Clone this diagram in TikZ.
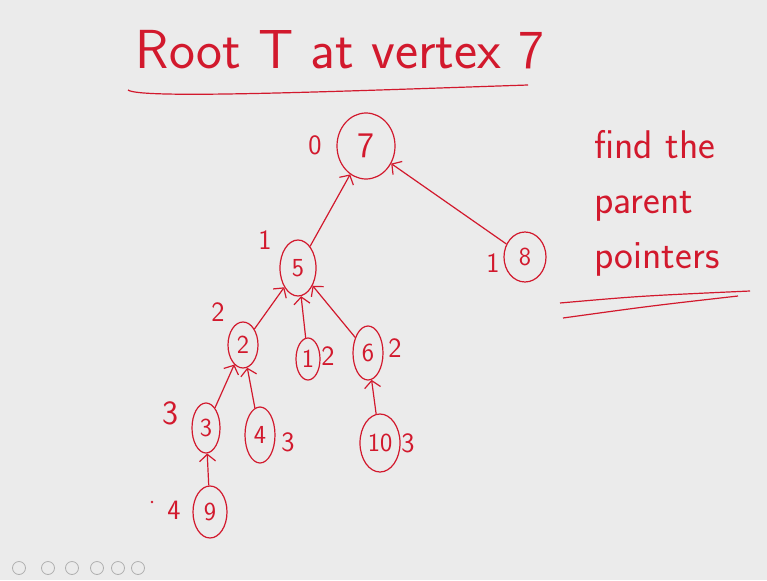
\documentclass[tikz,border=0pt]{standalone}
\usepackage{tikz}
\usetikzlibrary{shapes.geometric,arrows.meta}

\definecolor{ink}{RGB}{210,25,45}
\definecolor{board}{RGB}{235,235,235}
\definecolor{navgray}{RGB}{175,175,175}

\tikzset{
  vtx/.style={draw=ink, ellipse, inner sep=0pt, line width=1.2pt, text=ink, font=\fontsize{26}{26}\sffamily},
  lbl/.style={text=ink, font=\fontsize{28}{28}\sffamily},
  parent/.style={draw=ink, line width=1.2pt, -{Straight Barb[length=7pt,width=16pt]}},
  navbtn/.style={draw=navgray, line width=0.8pt}
}

\begin{document}
\begin{tikzpicture}[x=1pt,y=-1pt]
\fill[board] (0,0) rectangle (767,580);
\useasboundingbox (0,0) rectangle (767,580);

% heading
\node[text=ink, font=\fontsize{55}{60}\sffamily] (title) at (340,50) {Root T at vertex 7};
\draw[ink, line width=1.2pt] (128,90) .. controls (140,99) and (320,92) .. (528,85);

% the tree
\node[vtx, minimum width=58pt, minimum height=66pt, font=\fontsize{36}{36}\sffamily] (n7) at (366,146) {7};
\node[vtx, minimum width=36pt, minimum height=56pt] (n5) at (298,268) {5};
\node[vtx, minimum width=42pt, minimum height=50pt] (n8) at (525,257) {8};
\node[vtx, minimum width=30pt, minimum height=46pt] (n2) at (243,345) {2};
\node[vtx, minimum width=24pt, minimum height=42pt] (n1) at (308,359) {1};
\node[vtx, minimum width=30pt, minimum height=54pt] (n6) at (368,353) {6};
\node[vtx, minimum width=28pt, minimum height=50pt] (n3) at (206,428) {3};
\node[vtx, minimum width=30pt, minimum height=56pt] (n4) at (260,435) {4};
\node[vtx, minimum width=40pt, minimum height=58pt] (n10) at (380,443) {10};
\node[vtx, minimum width=34pt, minimum height=52pt] (n9) at (210,512) {9};

\draw[parent] (n5) -- (n7);
\draw[parent] (n8) -- (n7);
\draw[parent] (n2) -- (n5);
\draw[parent] (n1) -- (n5);
\draw[parent] (n6) -- (n5);
\draw[parent] (n3) -- (n2);
\draw[parent] (n4) -- (n2);
\draw[parent] (n9) -- (n3);
\draw[parent] (n10) -- (n6);

% depths
\node[lbl] (d7) at (315,145) {0};
\node[lbl] (d5) at (265,240) {1};
\node[lbl] (d8) at (493,263) {1};
\node[lbl] (d2) at (218,312) {2};
\node[lbl] (d1) at (328,356) {2};
\node[lbl] (d6) at (395,348) {2};
\node[lbl, font=\fontsize{34}{34}\sffamily] (d3) at (170,413) {3};
\node[lbl] (d4) at (288,442) {3};
\node[lbl] (d10) at (408,443) {3};
\node[lbl] (d9) at (174,510) {4};
\fill[ink] (152,502) circle (1.3pt);

% side note
\node[text=ink, align=left, font=\fontsize{40}{55}\sffamily] (note) at (657,203) {find the\\parent\\pointers};
\draw[ink, line width=1.2pt] (560,303) .. controls (640,296) .. (750,291);
\draw[ink, line width=1.2pt] (563,318) .. controls (650,306) .. (738,296);

% player buttons
\foreach \x in {19,48,72,97,118,138}
  \draw[navbtn] (\x,568) circle (6.5pt);
\end{tikzpicture}
\end{document}
